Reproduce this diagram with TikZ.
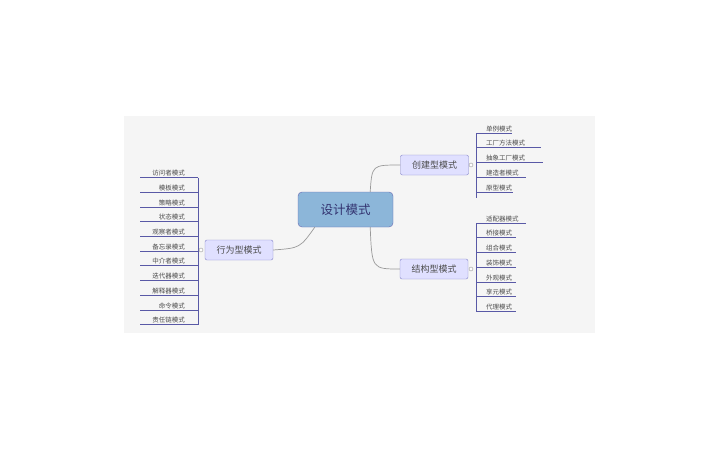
\documentclass[tikz,border=0pt]{standalone}
\usepackage{fontspec}
\setmainfont{Noto Sans CJK SC}
\begin{document}
\begin{tikzpicture}[x=1pt,y=-1pt,
 branch/.style={draw=blue!40!gray!70, fill=blue!12, rounded corners=2pt, minimum width=68pt, minimum height=20pt, font=\fontsize{9}{10}\selectfont, text=black!70, inner sep=1pt},
 leafl/.style={anchor=south east, font=\fontsize{6.5}{7}\selectfont, text=black!70, inner sep=1pt},
 leafr/.style={anchor=south west, font=\fontsize{6.5}{7}\selectfont, text=black!70, inner sep=1pt},
 tline/.style={draw=gray!70!blue, line width=0.6pt},
 conn/.style={draw=gray!80, line width=0.7pt},
 knob/.style={circle, draw=gray!80, fill=white, inner sep=0pt, minimum size=4pt}]
\useasboundingbox (0,0) rectangle (720,450);
\fill[blue!3!gray!8] (124,116) rectangle (595,333);
\node[draw=blue!50!black!60, fill=blue!45!cyan!50!gray!60, rounded corners=4pt, minimum width=95pt, minimum height=35pt, font=\fontsize{12.5}{14}\selectfont, text=blue!30!black!80] (c) at (345.5,209.5) {设计模式};
\node[branch] (b) at (239,250) {行为型模式};
\node[branch] (cr) at (434.5,165) {创建型模式};
\node[branch] (st) at (434,269) {结构型模式};
\draw[conn] (c.south west)++(17,0) coordinate (c1) .. controls (300,248) .. (b.east);
\draw[conn] (c.north east)++(-23,0) coordinate (c2) .. controls (372,165) .. (cr.west);
\draw[conn] (c.south east)++(-23,0) coordinate (c3) .. controls (372,269) .. (st.west);
% left leaves
\coordinate (lv) at (198,0);
\foreach \t [count=\i] in {访问者模式,模板模式,策略模式,状态模式,观察者模式,备忘录模式,中介者模式,迭代器模式,解释器模式,命令模式,责任链模式}{
 \pgfmathsetmacro\yy{177.5+(\i-1)*14.7}
 \node[leafl] (l\i) at (186,\yy) {\t};
 \draw[tline] (140,\yy) -- (198,\yy);
}
\draw[tline] (198,177.5) -- (198,324.5);
\node[knob] (kb) at (201,250) {};
% right top
\foreach \t/\w [count=\i] in {单例模式/36,工厂方法模式/65,抽象工厂模式/67,建造者模式/50,原型模式/37}{
 \pgfmathsetmacro\yy{133+(\i-1)*14.7}
 \node[leafr] (r\i) at (485,\yy) {\t};
 \draw[tline] (476,\yy) -- ++(\w,0);
}
\draw[tline] (476,133) -- (476,197.8);
\node[knob] (kc) at (471,165) {};
% right bottom
\foreach \t/\w [count=\i] in {适配器模式/50,桥接模式/40,组合模式/40,装饰模式/40,外观模式/40,享元模式/40,代理模式/40}{
 \pgfmathsetmacro\yy{223+(\i-1)*14.7}
 \node[leafr] (s\i) at (485,\yy) {\t};
 \draw[tline] (476,\yy) -- ++(\w,0);
}
\draw[tline] (476,223) -- (476,311.2);
\node[knob] (ks) at (471,269) {};
\end{tikzpicture}
\end{document}
